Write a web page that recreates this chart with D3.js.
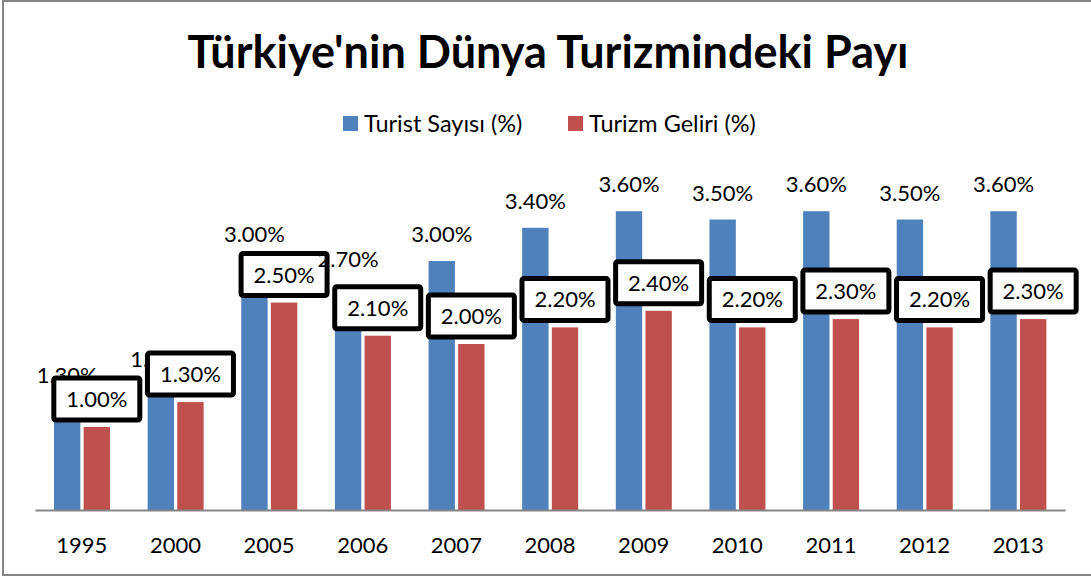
<!DOCTYPE html>
<head>
  <meta charset="utf-8">
  <script src="https://d3js.org/d3.v7.min.js"></script>
  <style>
    body { margin:0; background:#fff; }
    text { font-family: Lato, "Open Sans", sans-serif; fill:#000; }
  </style>
</head>
<body>
  <div class="chart"></div>
  <script>
    const years = ['1995', '2000', '2005', '2006', '2007', '2008', '2009', '2010', '2011', '2012', '2013'];
    const touristShare = [1.3, 1.5, 3.0, 2.7, 3.0, 3.4, 3.6, 3.5, 3.6, 3.5, 3.6];
    const revenueShare = [1.0, 1.3, 2.5, 2.1, 2.0, 2.2, 2.4, 2.2, 2.3, 2.2, 2.3];
    const seriesNames = ['Turist Sayısı (%)', 'Turizm Geliri (%)'];
    const colors = ['#4F81BD', '#C0504D'];

    const W = 1091, H = 578;
    const plot = { left: 35, right: 1065, top: 178, bottom: 510 };

    const svg = d3.select('.chart').append('svg')
      .attr('width', W).attr('height', H);

    // chart frame
    svg.append('rect')
      .attr('x', 3).attr('y', 1)
      .attr('width', W + 10).attr('height', 574)
      .attr('fill', 'none').attr('stroke', '#868686').attr('stroke-width', 2);

    svg.append('text')
      .attr('x', 548).attr('y', 68)
      .attr('text-anchor', 'middle')
      .style('font-size', '45px').style('font-weight', 'bold')
      .text("Türkiye'nin Dünya Turizmindeki Payı");

    // legend
    const legendX = [343, 568];
    seriesNames.forEach((name, i) => {
      svg.append('rect')
        .attr('x', legendX[i]).attr('y', 116)
        .attr('width', 15).attr('height', 15)
        .attr('fill', colors[i]);
      svg.append('text')
        .attr('x', legendX[i] + 21).attr('y', 132)
        .style('font-size', '23.5px')
        .text(name);
    });

    const x = d3.scaleBand()
      .domain(years)
      .range([plot.left, plot.right]);

    const inner = d3.scaleBand()
      .domain([0, 1])
      .range([19, 75])
      .paddingInner(0.11);

    const y = d3.scaleLinear()
      .domain([0, 4])
      .range([plot.bottom, plot.top]);

    const rows = years.map((yr, i) => ({ year: yr, vals: [touristShare[i], revenueShare[i]] }));

    const groups = svg.selectAll('.grp')
      .data(rows)
      .enter().append('g')
      .attr('class', 'grp')
      .attr('transform', d => `translate(${x(d.year)},0)`);

    groups.selectAll('rect')
      .data(d => d.vals)
      .enter().append('rect')
      .attr('x', (v, i) => inner(i))
      .attr('width', inner.bandwidth())
      .attr('y', v => y(v))
      .attr('height', v => y(0) - y(v))
      .attr('fill', (v, i) => colors[i]);

    // axis
    const xAxis = svg.append('g')
      .attr('transform', `translate(0,${plot.bottom})`)
      .call(d3.axisBottom(x).tickSize(0).tickPadding(27));
    xAxis.select('.domain').attr('stroke', '#868686').attr('stroke-width', 2);
    xAxis.selectAll('text')
      .style('font-size', '22px')
      .style('font-family', 'Lato, "Open Sans", sans-serif')
      .attr('fill', '#000');

    const fmt = v => v.toFixed(2) + '%';

    // blue labels
    groups.append('text')
      .attr('x', inner(0) + inner.bandwidth() / 2)
      .attr('y', d => y(d.vals[0]) - 19)
      .attr('text-anchor', 'middle')
      .style('font-size', '22px')
      .text(d => fmt(d.vals[0]));

    // boxed red labels
    const boxW = 86, boxH = 42;
    const cx = inner(1) + inner.bandwidth() / 2;
    groups.append('rect')
      .attr('x', cx - boxW / 2)
      .attr('y', d => y(d.vals[1]) - 7 - boxH)
      .attr('width', boxW).attr('height', boxH)
      .attr('rx', 2)
      .attr('fill', '#fff').attr('stroke', '#000').attr('stroke-width', 5);
    groups.append('text')
      .attr('x', cx)
      .attr('y', d => y(d.vals[1]) - 20)
      .attr('text-anchor', 'middle')
      .style('font-size', '22px')
      .text(d => fmt(d.vals[1]));
  </script>
</body>
